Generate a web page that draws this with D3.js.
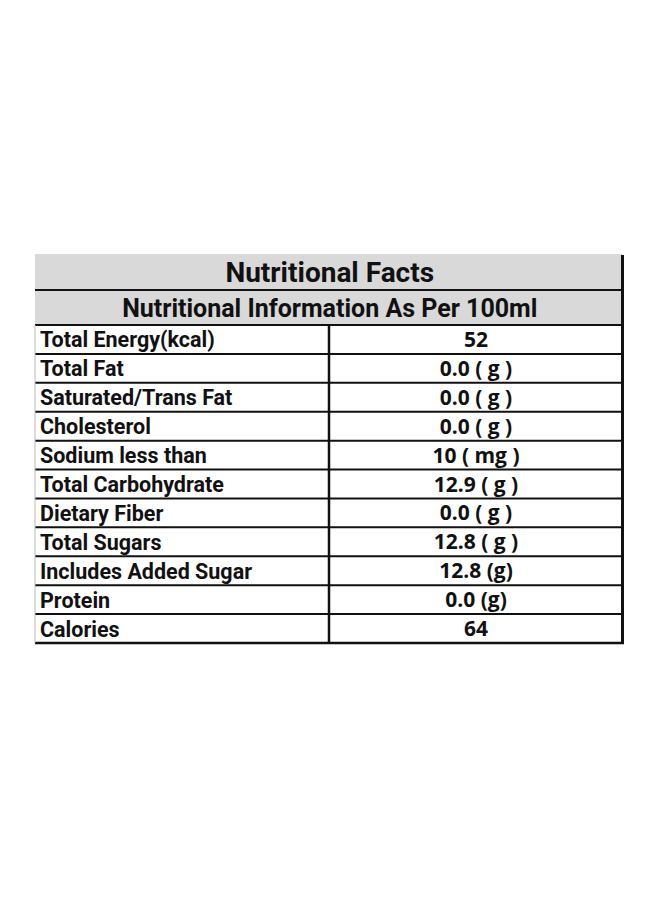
<!DOCTYPE html>
<html>
<head>
<meta charset="utf-8">
<script src="https://cdn.jsdelivr.net/npm/d3@7"></script>
<style>
  body { margin: 0; background: #fff; }
  svg { display: block; }
</style>
</head>
<body>
<script>
//table contents
var title = "Nutritional Facts";
var subtitle = "Nutritional Information As Per 100ml";
var nutrients = ["Total Energy(kcal)", "Total Fat", "Saturated/Trans Fat", "Cholesterol", "Sodium less than",
  "Total Carbohydrate", "Dietary Fiber", "Total Sugars", "Includes Added Sugar", "Protein", "Calories"];
var amounts = ["52", "0.0 ( g )", "0.0 ( g )", "0.0 ( g )", "10 ( mg )",
  "12.9 ( g )", "0.0 ( g )", "12.8 ( g )", "12.8 (g)", "0.0 (g)", "64"];

var width = 660, height = 900;
var left = 35, right = 622.5, split = 329;
var top1 = 254, top2 = 290, rowsTop = 325, rowsBottom = 643;

var svg = d3.select("body").append("svg")
  .attr("width", width)
  .attr("height", height);

//row band scale
var y = d3.scaleBand()
  .domain(d3.range(nutrients.length))
  .range([rowsTop, rowsBottom])
  .paddingInner(0).paddingOuter(0);

//header backgrounds
svg.append("rect")
  .attr("x", left).attr("y", top1)
  .attr("width", right - left).attr("height", rowsTop - top1)
  .attr("fill", "#d9d9d9");

//header texts
svg.append("text")
  .attr("x", (left + right) / 2 + 1)
  .attr("y", (top1 + top2) / 2 + 10)
  .attr("text-anchor", "middle")
  .style("font-family", "Roboto")
  .style("font-weight", "bold")
  .style("font-size", "28px")
  .attr("fill", "#111")
  .text(title);

svg.append("text")
  .attr("x", (left + right) / 2 + 1)
  .attr("y", (top2 + rowsTop) / 2 + 9.5)
  .attr("text-anchor", "middle")
  .style("font-family", "Roboto")
  .style("font-weight", "bold")
  .style("font-size", "25px")
  .attr("fill", "#111")
  .text(subtitle);

//nutrient labels
svg.selectAll(".label")
  .data(nutrients)
  .enter()
  .append("text")
  .attr("class", "label")
  .attr("x", left + 5)
  .attr("y", function(d, i){ return y(i) + y.bandwidth() / 2 + 8; })
  .style("font-family", "Roboto")
  .style("font-weight", "bold")
  .style("font-size", "21.5px")
  .attr("fill", "#111")
  .text(function(d){ return d; });

//amounts
svg.selectAll(".amount")
  .data(amounts)
  .enter()
  .append("text")
  .attr("class", "amount")
  .attr("x", 476)
  .attr("y", function(d, i){ return y(i) + y.bandwidth() / 2 + 7.5; })
  .attr("text-anchor", "middle")
  .style("font-family", "Open Sans")
  .style("font-weight", "bold")
  .style("font-size", "21px")
  .attr("fill", "#111")
  .text(function(d){ return d; });

//horizontal rules
var rules = [top2, rowsTop].concat(d3.range(1, nutrients.length).map(function(i){ return y(i); }));
svg.selectAll(".rule")
  .data(rules)
  .enter()
  .append("line")
  .attr("class", "rule")
  .attr("x1", left).attr("x2", right)
  .attr("y1", function(d){ return d; })
  .attr("y2", function(d){ return d; })
  .attr("stroke", "#111")
  .attr("stroke-width", 2);

//bottom rule
svg.append("line")
  .attr("x1", left).attr("x2", right + 1.5)
  .attr("y1", rowsBottom).attr("y2", rowsBottom)
  .attr("stroke", "#111")
  .attr("stroke-width", 2.5);

//column divider
svg.append("line")
  .attr("x1", split).attr("x2", split)
  .attr("y1", rowsTop).attr("y2", rowsBottom)
  .attr("stroke", "#111")
  .attr("stroke-width", 2.5);

//left edge (light)
svg.append("line")
  .attr("x1", left).attr("x2", left)
  .attr("y1", rowsTop).attr("y2", rowsBottom)
  .attr("stroke", "#bbb")
  .attr("stroke-width", 1);

//right edge
svg.append("line")
  .attr("x1", right).attr("x2", right)
  .attr("y1", top1 + 1).attr("y2", rowsBottom + 1)
  .attr("stroke", "#111")
  .attr("stroke-width", 3);
</script>
</body>
</html>
